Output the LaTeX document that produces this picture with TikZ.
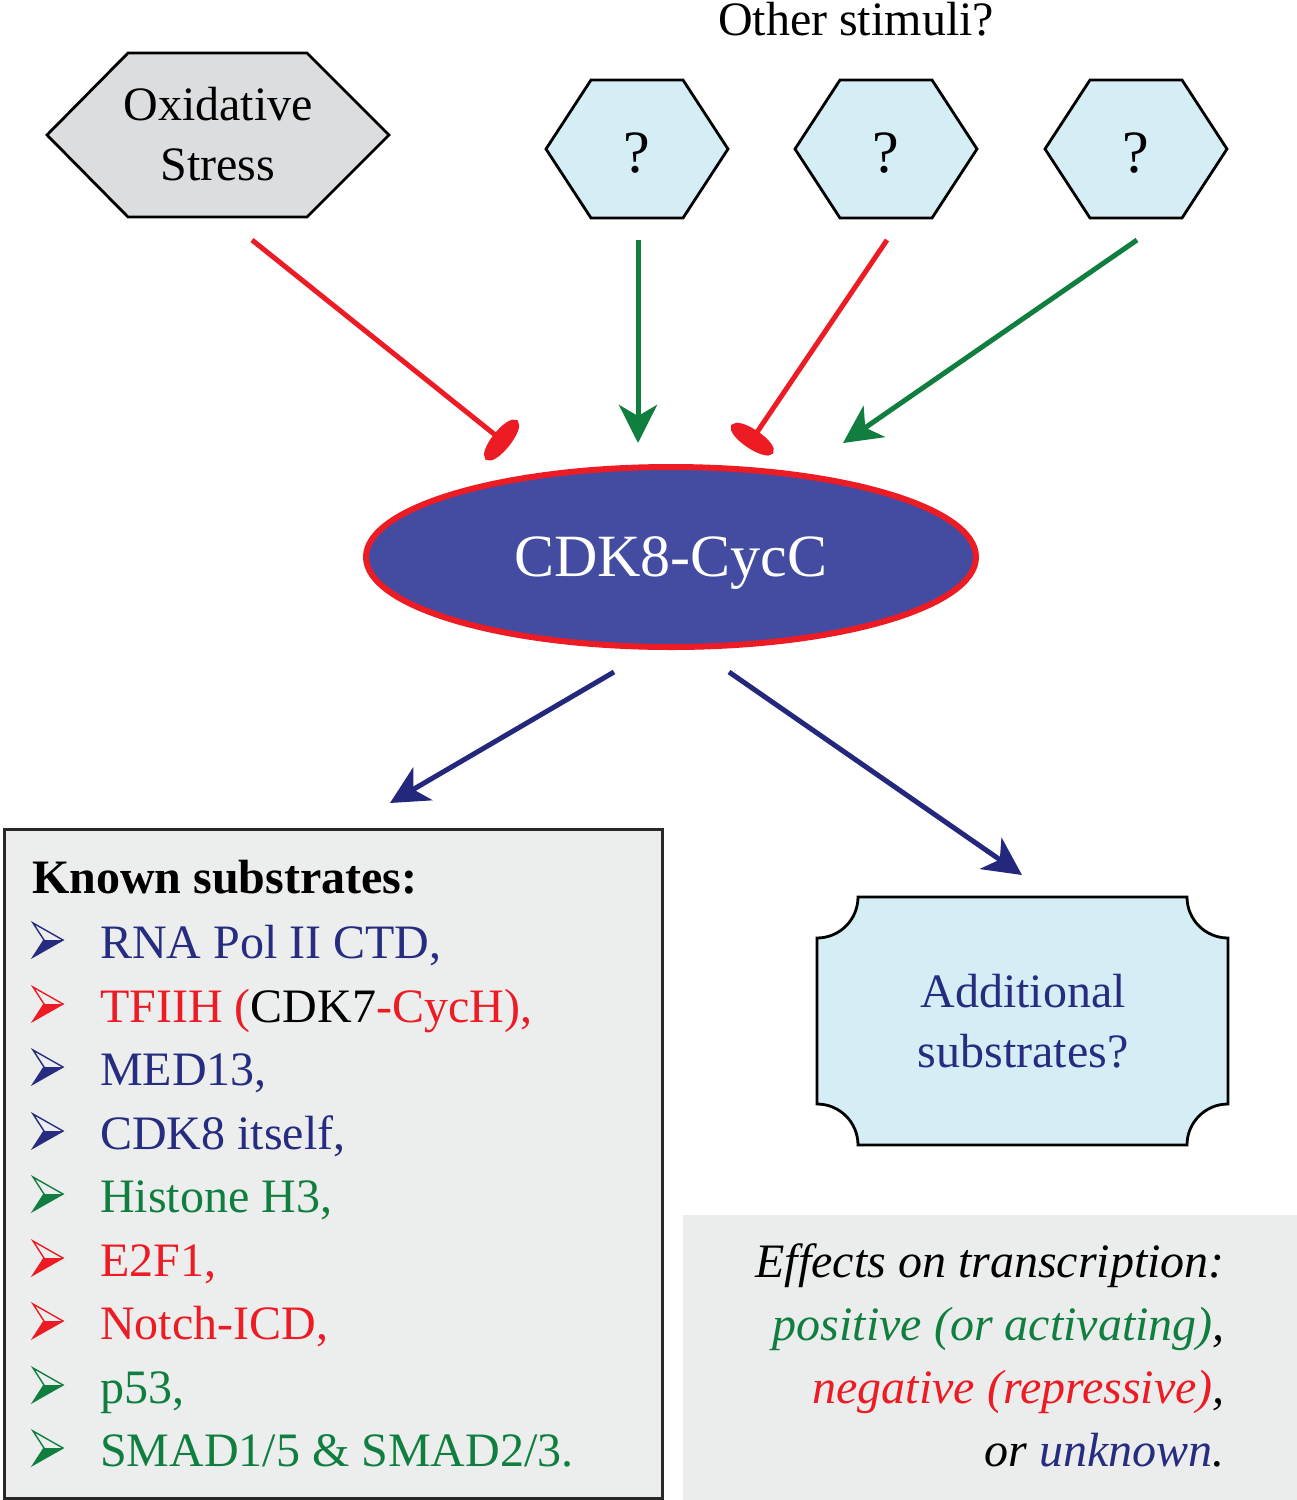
\documentclass[tikz,border=0pt]{standalone}
\usepackage{fontspec}
\setmainfont{Liberation Serif}
\usetikzlibrary{arrows.meta,shapes.geometric,calc}
\definecolor{cred}{RGB}{237,28,36}
\definecolor{cgreen}{RGB}{16,126,62}
\definecolor{cnavy}{RGB}{38,44,128}
\definecolor{carrow}{RGB}{36,40,124}
\definecolor{cell}{RGB}{67,76,160}
\definecolor{hexgray}{RGB}{220,221,223}
\definecolor{lblue}{RGB}{213,238,245}
\definecolor{knowngray}{RGB}{236,237,237}
\definecolor{effgray}{RGB}{235,236,236}
\definecolor{boxdark}{RGB}{40,40,40}
\newcommand\bularrow[2]{%
  \draw[#1, line width=1.4pt, line join=miter] (33,{#2-35}) -- (63,{#2-18}) -- (33,{#2-1}) -- (44,{#2-18}) -- cycle;
  \fill[#1] (44,{#2-18}) -- (63,{#2-18}) -- (33,{#2-1}) -- cycle;}
\begin{document}
\begin{tikzpicture}[x=1pt,y=-1pt,
  txt/.style={inner sep=0pt, font=\fontsize{48}{58}\selectfont},
  hexline/.style={draw=black, line width=2.8pt, line join=miter},
  act/.style={line width=5pt, -{Stealth[length=38pt,width=38pt,inset=11pt]}},
  inh/.style={line width=5pt, -{Ellipse[length=19pt,width=50pt]}},
]
\useasboundingbox (0,0) rectangle (1297,1500);

% Oxidative stress hexagon
\draw[hexline, fill=hexgray] (47,135) -- (128,53) -- (307,53) -- (389,135) -- (307,217) -- (128,217) -- cycle;
\node[txt, anchor=base] (ox1) at (218,120) {Oxidative};
\node[txt, anchor=base] (ox2) at (218,180) {Stress};

% Other stimuli
\node[txt, anchor=base] (other) at (856,35) {Other stimuli?};
\foreach \cx/\nm in {637/q1, 886/q2, 1136/q3}{
  \draw[hexline, fill=lblue] ({\cx-91},149) -- ({\cx-46},80) -- ({\cx+46},80) -- ({\cx+91},149) -- ({\cx+46},218) -- ({\cx-46},218) -- cycle;
  \node[txt, anchor=base, font=\fontsize{60}{70}\selectfont] (\nm) at (\cx,172) {?};
}

% Central complex
\node[ellipse, draw=cred, fill=cell, line width=6pt, minimum width=610pt, minimum height=180pt, inner sep=0pt,
      text=white, text depth=0pt, font=\fontsize{60}{70}\selectfont] (cdk) at (671,557) {CDK8-CycC};

% connector end points
\coordinate (s1) at (252,240); \coordinate (e1) at (509,446);
\coordinate (s2) at (638,240); \coordinate (e2) at (638,443);
\coordinate (s3) at (887,240); \coordinate (e3) at (747,447);
\coordinate (s4) at (1137,240); \coordinate (e4) at (843,443);
\draw[inh, cred] (s1) -- (e1);
\draw[act, cgreen] (s2) -- (e2);
\draw[inh, cred] (s3) -- (e3);
\draw[act, cgreen] (s4) -- (e4);

\coordinate (d1) at (614,672); \coordinate (t1) at (390,803);
\coordinate (d2) at (729,672); \coordinate (t2) at (1022,875);
\draw[act, carrow] (d1) -- (t1);
\draw[act, carrow] (d2) -- (t2);

% Known substrates box
\node[draw=boxdark, line width=3pt, fill=knowngray, minimum width=658pt, minimum height=669pt, inner sep=0pt, anchor=north west] (known) at (3,828) {};
\node[txt, anchor=base west, font=\fontsize{48}{58}\selectfont\bfseries] (kh) at (32,893) {Known substrates:};
\foreach \y/\c in {958/cnavy, 1022/cred, 1085/cnavy, 1149/cnavy, 1212/cgreen, 1276/cred, 1339/cred, 1403/cgreen, 1466/cgreen}{
  \bularrow{\c}{\y}
}
\node[txt, anchor=base west, text=cnavy] (i1) at (100,958) {RNA Pol II CTD,};
\node[txt, anchor=base west] (i2) at (100,1022) {\textcolor{cred}{TFIIH (}CDK7\textcolor{cred}{-CycH),}};
\node[txt, anchor=base west, text=cnavy] (i3) at (100,1085) {MED13,};
\node[txt, anchor=base west, text=cnavy] (i4) at (100,1149) {CDK8 itself,};
\node[txt, anchor=base west, text=cgreen] (i5) at (100,1212) {Histone H3,};
\node[txt, anchor=base west, text=cred] (i6) at (100,1276) {E2F1,};
\node[txt, anchor=base west, text=cred] (i7) at (100,1339) {Notch-ICD,};
\node[txt, anchor=base west, text=cgreen] (i8) at (100,1403) {p53,};
\node[txt, anchor=base west, text=cgreen] (i9) at (100,1466) {SMAD1/5 \& SMAD2/3.};

% Additional substrates box
\draw[hexline, fill=lblue] (858,897) arc[start angle=0, end angle=90, radius=41]
  -- (817,1104) arc[start angle=-90, end angle=0, radius=41]
  -- (1187,1145) arc[start angle=180, end angle=270, radius=41]
  -- (1228,938) arc[start angle=90, end angle=180, radius=41] -- cycle;
\node[txt, anchor=base, text=cnavy] (add1) at (1023,1007) {Additional};
\node[txt, anchor=base, text=cnavy] (add2) at (1023,1067) {substrates?};

% Effects legend
\fill[effgray] (683,1215) rectangle (1297,1500);
\node[txt, anchor=base east, font=\fontsize{48}{58}\selectfont\itshape] (ef1) at (1225,1277) {Effects on transcription:};
\node[txt, anchor=base east, font=\fontsize{48}{58}\selectfont\itshape] (ef2) at (1225,1340) {\textcolor{cgreen}{positive (or activating)},};
\node[txt, anchor=base east, font=\fontsize{48}{58}\selectfont\itshape] (ef3) at (1225,1403) {\textcolor{cred}{negative (repressive)},};
\node[txt, anchor=base east, font=\fontsize{48}{58}\selectfont\itshape] (ef4) at (1225,1466) {or \textcolor{cnavy}{unknown}.};
\end{tikzpicture}
\end{document}
